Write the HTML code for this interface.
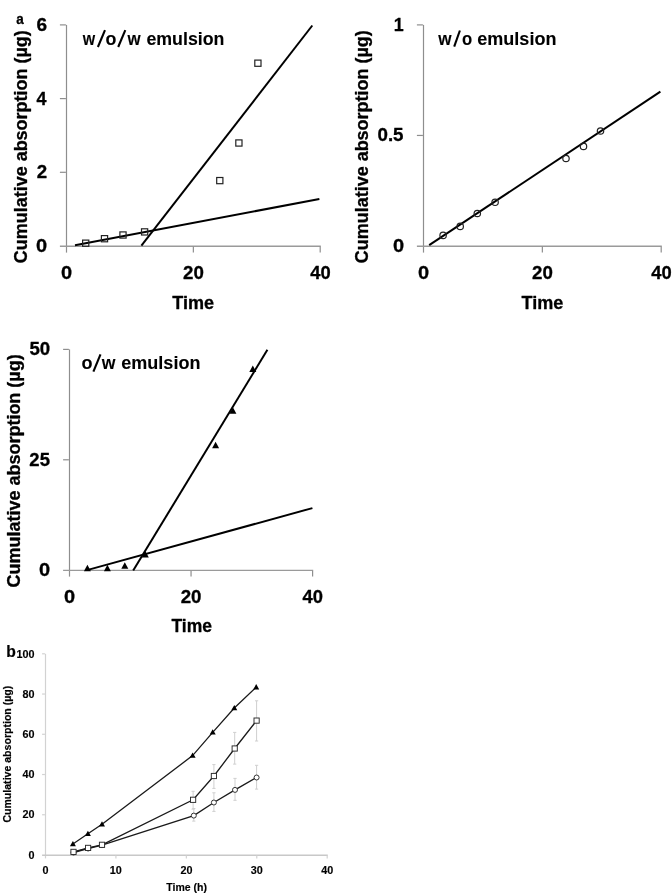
<!DOCTYPE html>
<html><head><meta charset="utf-8"><style>
html,body{margin:0;padding:0;background:#fff;width:672px;height:893px;overflow:hidden}
svg{display:block;will-change:transform}
</style></head><body>
<svg width="672" height="893" viewBox="0 0 672 893" font-family='"Liberation Sans", sans-serif'>
<style>text{stroke:#000;stroke-width:0.3px;stroke-linejoin:round}.sm text{stroke-width:0.15px}.tt text{stroke-width:0.1px}.sb text{stroke-width:0.2px}</style>
<rect width="672" height="893" fill="#fff"/>
<line x1="66.50" y1="24.90" x2="66.50" y2="252.60" stroke="#8e8e8e" stroke-width="1.2" stroke-linecap="butt"/>
<line x1="59.90" y1="246.20" x2="320.80" y2="246.20" stroke="#9a9a9a" stroke-width="1.4" stroke-linecap="butt"/>
<line x1="59.90" y1="172.30" x2="65.90" y2="172.30" stroke="#8e8e8e" stroke-width="1.2" stroke-linecap="butt"/>
<line x1="59.90" y1="98.60" x2="65.90" y2="98.60" stroke="#8e8e8e" stroke-width="1.2" stroke-linecap="butt"/>
<line x1="59.90" y1="24.90" x2="65.90" y2="24.90" stroke="#8e8e8e" stroke-width="1.2" stroke-linecap="butt"/>
<line x1="193.35" y1="246.60" x2="193.35" y2="252.60" stroke="#8e8e8e" stroke-width="1.2" stroke-linecap="butt"/>
<line x1="320.20" y1="246.60" x2="320.20" y2="252.60" stroke="#8e8e8e" stroke-width="1.2" stroke-linecap="butt"/>
<text x="36.11" y="251.90" font-size="18" font-weight="bold" fill="#000" textLength="11.11" lengthAdjust="spacingAndGlyphs">0</text>
<text x="36.75" y="178.20" font-size="18" font-weight="bold" fill="#000" textLength="10.40" lengthAdjust="spacingAndGlyphs">2</text>
<text x="36.53" y="104.50" font-size="18" font-weight="bold" fill="#000" textLength="9.97" lengthAdjust="spacingAndGlyphs">4</text>
<text x="36.50" y="30.80" font-size="18" font-weight="bold" fill="#000" textLength="10.58" lengthAdjust="spacingAndGlyphs">6</text>
<text x="60.96" y="278.60" font-size="18" font-weight="bold" fill="#000" textLength="11.11" lengthAdjust="spacingAndGlyphs">0</text>
<text x="183.00" y="278.60" font-size="18" font-weight="bold" fill="#000" textLength="20.82" lengthAdjust="spacingAndGlyphs">20</text>
<text x="310.22" y="278.60" font-size="18" font-weight="bold" fill="#000" textLength="20.43" lengthAdjust="spacingAndGlyphs">40</text>
<text x="172.30" y="308.60" font-size="18" font-weight="bold" fill="#000" textLength="41.81" lengthAdjust="spacingAndGlyphs">Time</text>
<g class="tt">
<text x="82.65" y="44.50" font-size="18" font-weight="bold" fill="#000" textLength="12.42" lengthAdjust="spacingAndGlyphs">w</text>
<line x1="97.90" y1="47.00" x2="105.00" y2="30.10" stroke="#000" stroke-width="2.1" stroke-linecap="butt"/>
<text x="105.60" y="44.50" font-size="18" font-weight="bold" fill="#000" textLength="10.89" lengthAdjust="spacingAndGlyphs">o</text>
<line x1="118.20" y1="47.00" x2="125.30" y2="30.10" stroke="#000" stroke-width="2.1" stroke-linecap="butt"/>
<text x="127.45" y="44.50" font-size="18" font-weight="bold" fill="#000" textLength="13.12" lengthAdjust="spacingAndGlyphs">w</text>
<text x="146.41" y="44.50" font-size="18" font-weight="bold" fill="#000" textLength="78.00" lengthAdjust="spacingAndGlyphs">emulsion</text>
</g>
<text x="16.30" y="24.20" font-size="15.5" font-weight="bold" fill="#000" textLength="7.51" lengthAdjust="spacingAndGlyphs">a</text>
<text transform="translate(27.20 262.40) rotate(-90)" x="-0.74" y="0" font-size="17.5" font-weight="bold" textLength="232.83" lengthAdjust="spacingAndGlyphs">Cumulative absorption (µg)</text>
<line x1="75.00" y1="245.30" x2="319.40" y2="199.00" stroke="#000" stroke-width="2" stroke-linecap="butt"/>
<line x1="141.40" y1="245.60" x2="312.30" y2="25.50" stroke="#000" stroke-width="2" stroke-linecap="butt"/>
<rect x="82.60" y="240.10" width="6.2" height="6.2" fill="none" stroke="#222" stroke-width="1.2"/>
<rect x="101.40" y="235.60" width="6.2" height="6.2" fill="none" stroke="#222" stroke-width="1.2"/>
<rect x="119.90" y="231.90" width="6.2" height="6.2" fill="none" stroke="#222" stroke-width="1.2"/>
<rect x="141.50" y="228.80" width="6.2" height="6.2" fill="none" stroke="#222" stroke-width="1.2"/>
<rect x="216.70" y="177.50" width="6.2" height="6.2" fill="none" stroke="#222" stroke-width="1.2"/>
<rect x="235.80" y="139.90" width="6.2" height="6.2" fill="none" stroke="#222" stroke-width="1.2"/>
<rect x="254.80" y="60.10" width="6.2" height="6.2" fill="none" stroke="#222" stroke-width="1.2"/>
<line x1="423.50" y1="24.90" x2="423.50" y2="252.60" stroke="#8e8e8e" stroke-width="1.2" stroke-linecap="butt"/>
<line x1="416.90" y1="246.20" x2="661.80" y2="246.20" stroke="#9a9a9a" stroke-width="1.4" stroke-linecap="butt"/>
<line x1="416.90" y1="135.45" x2="422.90" y2="135.45" stroke="#8e8e8e" stroke-width="1.2" stroke-linecap="butt"/>
<line x1="416.90" y1="24.90" x2="422.90" y2="24.90" stroke="#8e8e8e" stroke-width="1.2" stroke-linecap="butt"/>
<line x1="542.35" y1="246.60" x2="542.35" y2="252.60" stroke="#8e8e8e" stroke-width="1.2" stroke-linecap="butt"/>
<line x1="661.20" y1="246.60" x2="661.20" y2="252.60" stroke="#8e8e8e" stroke-width="1.2" stroke-linecap="butt"/>
<text x="392.91" y="251.90" font-size="18" font-weight="bold" fill="#000" textLength="11.11" lengthAdjust="spacingAndGlyphs">0</text>
<text x="393.78" y="30.80" font-size="18" font-weight="bold" fill="#000" textLength="9.92" lengthAdjust="spacingAndGlyphs">1</text>
<text x="377.46" y="141.35" font-size="18" font-weight="bold" fill="#000" textLength="26.06" lengthAdjust="spacingAndGlyphs">0.5</text>
<text x="417.96" y="278.60" font-size="18" font-weight="bold" fill="#000" textLength="11.11" lengthAdjust="spacingAndGlyphs">0</text>
<text x="532.00" y="278.60" font-size="18" font-weight="bold" fill="#000" textLength="20.82" lengthAdjust="spacingAndGlyphs">20</text>
<text x="651.22" y="278.60" font-size="18" font-weight="bold" fill="#000" textLength="20.43" lengthAdjust="spacingAndGlyphs">40</text>
<text x="521.60" y="308.60" font-size="18" font-weight="bold" fill="#000" textLength="41.81" lengthAdjust="spacingAndGlyphs">Time</text>
<g class="tt">
<text x="438.15" y="44.50" font-size="18" font-weight="bold" fill="#000" textLength="13.32" lengthAdjust="spacingAndGlyphs">w</text>
<line x1="454.20" y1="46.70" x2="459.90" y2="30.50" stroke="#000" stroke-width="2.1" stroke-linecap="butt"/>
<text x="462.05" y="44.50" font-size="18" font-weight="bold" fill="#000" textLength="10.21" lengthAdjust="spacingAndGlyphs">o</text>
<text x="477.30" y="44.50" font-size="18" font-weight="bold" fill="#000" textLength="79.12" lengthAdjust="spacingAndGlyphs">emulsion</text>
</g>
<text transform="translate(367.90 262.40) rotate(-90)" x="-0.74" y="0" font-size="17.5" font-weight="bold" textLength="232.83" lengthAdjust="spacingAndGlyphs">Cumulative absorption (µg)</text>
<line x1="429.20" y1="245.20" x2="660.40" y2="91.60" stroke="#000" stroke-width="2" stroke-linecap="butt"/>
<circle cx="443.10" cy="235.40" r="3.2" fill="none" stroke="#222" stroke-width="1.2"/>
<circle cx="460.20" cy="226.40" r="3.2" fill="none" stroke="#222" stroke-width="1.2"/>
<circle cx="477.30" cy="213.50" r="3.2" fill="none" stroke="#222" stroke-width="1.2"/>
<circle cx="495.10" cy="202.30" r="3.2" fill="none" stroke="#222" stroke-width="1.2"/>
<circle cx="566.00" cy="158.50" r="3.2" fill="none" stroke="#222" stroke-width="1.2"/>
<circle cx="583.50" cy="146.40" r="3.2" fill="none" stroke="#222" stroke-width="1.2"/>
<circle cx="600.50" cy="131.00" r="3.2" fill="none" stroke="#222" stroke-width="1.2"/>
<line x1="69.50" y1="349.40" x2="69.50" y2="576.60" stroke="#8e8e8e" stroke-width="1.2" stroke-linecap="butt"/>
<line x1="63.10" y1="570.40" x2="313.20" y2="570.40" stroke="#9a9a9a" stroke-width="1.4" stroke-linecap="butt"/>
<line x1="63.10" y1="459.80" x2="68.90" y2="459.80" stroke="#8e8e8e" stroke-width="1.2" stroke-linecap="butt"/>
<line x1="63.10" y1="349.40" x2="68.90" y2="349.40" stroke="#8e8e8e" stroke-width="1.2" stroke-linecap="butt"/>
<line x1="191.05" y1="570.80" x2="191.05" y2="576.60" stroke="#8e8e8e" stroke-width="1.2" stroke-linecap="butt"/>
<line x1="312.60" y1="570.80" x2="312.60" y2="576.60" stroke="#8e8e8e" stroke-width="1.2" stroke-linecap="butt"/>
<text x="39.11" y="576.10" font-size="18" font-weight="bold" fill="#000" textLength="11.11" lengthAdjust="spacingAndGlyphs">0</text>
<text x="29.36" y="465.70" font-size="18" font-weight="bold" fill="#000" textLength="20.55" lengthAdjust="spacingAndGlyphs">25</text>
<text x="29.43" y="355.30" font-size="18" font-weight="bold" fill="#000" textLength="20.74" lengthAdjust="spacingAndGlyphs">50</text>
<text x="63.96" y="602.90" font-size="18" font-weight="bold" fill="#000" textLength="11.11" lengthAdjust="spacingAndGlyphs">0</text>
<text x="180.70" y="602.90" font-size="18" font-weight="bold" fill="#000" textLength="20.82" lengthAdjust="spacingAndGlyphs">20</text>
<text x="302.62" y="602.90" font-size="18" font-weight="bold" fill="#000" textLength="20.43" lengthAdjust="spacingAndGlyphs">40</text>
<text x="171.41" y="632.20" font-size="18" font-weight="bold" fill="#000" textLength="40.49" lengthAdjust="spacingAndGlyphs">Time</text>
<g class="tt">
<text x="81.60" y="368.50" font-size="18" font-weight="bold" fill="#000" textLength="11.01" lengthAdjust="spacingAndGlyphs">o</text>
<line x1="93.40" y1="371.70" x2="100.50" y2="354.40" stroke="#000" stroke-width="2.1" stroke-linecap="butt"/>
<text x="101.85" y="368.50" font-size="18" font-weight="bold" fill="#000" textLength="13.71" lengthAdjust="spacingAndGlyphs">w</text>
<text x="121.30" y="368.50" font-size="18" font-weight="bold" fill="#000" textLength="79.12" lengthAdjust="spacingAndGlyphs">emulsion</text>
</g>
<text transform="translate(20.30 586.80) rotate(-90)" x="-0.74" y="0" font-size="17.5" font-weight="bold" textLength="233.23" lengthAdjust="spacingAndGlyphs">Cumulative absorption (µg)</text>
<line x1="87.90" y1="569.90" x2="312.40" y2="508.10" stroke="#000" stroke-width="2" stroke-linecap="butt"/>
<line x1="133.20" y1="570.60" x2="267.40" y2="349.80" stroke="#000" stroke-width="2" stroke-linecap="butt"/>
<path d="M83.90 571.30 L90.90 571.30 L87.40 564.80 Z" fill="#000"/>
<path d="M103.90 571.30 L110.90 571.30 L107.40 564.80 Z" fill="#000"/>
<path d="M121.30 568.80 L128.30 568.80 L124.80 562.30 Z" fill="#000"/>
<path d="M141.80 557.50 L148.80 557.50 L145.30 551.00 Z" fill="#000"/>
<path d="M212.10 448.30 L219.10 448.30 L215.60 441.80 Z" fill="#000"/>
<path d="M229.40 413.80 L236.40 413.80 L232.90 407.30 Z" fill="#000"/>
<path d="M249.30 372.00 L256.30 372.00 L252.80 365.50 Z" fill="#000"/>
<g class="sm">
<line x1="45.50" y1="653.80" x2="45.50" y2="858.40" stroke="#d2d2d2" stroke-width="1.2" stroke-linecap="butt"/>
<line x1="42.10" y1="855.20" x2="327.80" y2="855.20" stroke="#c8c8c8" stroke-width="1.4" stroke-linecap="butt"/>
<line x1="42.10" y1="814.76" x2="44.90" y2="814.76" stroke="#d2d2d2" stroke-width="1.2" stroke-linecap="butt"/>
<line x1="42.10" y1="774.52" x2="44.90" y2="774.52" stroke="#d2d2d2" stroke-width="1.2" stroke-linecap="butt"/>
<line x1="42.10" y1="734.28" x2="44.90" y2="734.28" stroke="#d2d2d2" stroke-width="1.2" stroke-linecap="butt"/>
<line x1="42.10" y1="694.04" x2="44.90" y2="694.04" stroke="#d2d2d2" stroke-width="1.2" stroke-linecap="butt"/>
<line x1="42.10" y1="653.80" x2="44.90" y2="653.80" stroke="#d2d2d2" stroke-width="1.2" stroke-linecap="butt"/>
<line x1="115.92" y1="855.60" x2="115.92" y2="858.40" stroke="#d2d2d2" stroke-width="1.2" stroke-linecap="butt"/>
<line x1="186.35" y1="855.60" x2="186.35" y2="858.40" stroke="#d2d2d2" stroke-width="1.2" stroke-linecap="butt"/>
<line x1="256.77" y1="855.60" x2="256.77" y2="858.40" stroke="#d2d2d2" stroke-width="1.2" stroke-linecap="butt"/>
<line x1="327.20" y1="855.60" x2="327.20" y2="858.40" stroke="#d2d2d2" stroke-width="1.2" stroke-linecap="butt"/>
<text x="28.44" y="858.70" font-size="10.8" font-weight="bold" fill="#000">0</text>
<text x="22.43" y="818.46" font-size="10.8" font-weight="bold" fill="#000">20</text>
<text x="22.43" y="778.22" font-size="10.8" font-weight="bold" fill="#000">40</text>
<text x="22.43" y="737.98" font-size="10.8" font-weight="bold" fill="#000">60</text>
<text x="22.43" y="697.74" font-size="10.8" font-weight="bold" fill="#000">80</text>
<text x="16.42" y="657.50" font-size="10.8" font-weight="bold" fill="#000">100</text>
<text x="42.50" y="874.20" font-size="10.8" font-weight="bold" fill="#000">0</text>
<text x="109.80" y="874.20" font-size="10.8" font-weight="bold" fill="#000">10</text>
<text x="180.38" y="874.20" font-size="10.8" font-weight="bold" fill="#000">20</text>
<text x="250.87" y="874.20" font-size="10.8" font-weight="bold" fill="#000">30</text>
<text x="321.33" y="874.20" font-size="10.8" font-weight="bold" fill="#000">40</text>
<text x="166.28" y="890.90" font-size="11" font-weight="bold" fill="#000" textLength="40.74" lengthAdjust="spacingAndGlyphs">Time (h)</text>
</g>
<g class="sb">
<text x="6.37" y="657.40" font-size="15.8" font-weight="bold" fill="#000" textLength="9.58" lengthAdjust="spacingAndGlyphs">b</text>
<text transform="translate(11.20 822.20) rotate(-90)" x="-0.43" y="0" font-size="11" font-weight="bold" textLength="136.96" lengthAdjust="spacingAndGlyphs">Cumulative absorption (µg)</text>
</g>
<line x1="193.10" y1="791.30" x2="193.10" y2="809.20" stroke="#cfcfcf" stroke-width="1" stroke-linecap="butt"/>
<line x1="191.50" y1="791.30" x2="194.70" y2="791.30" stroke="#cfcfcf" stroke-width="1" stroke-linecap="butt"/>
<line x1="191.50" y1="809.20" x2="194.70" y2="809.20" stroke="#cfcfcf" stroke-width="1" stroke-linecap="butt"/>
<line x1="213.90" y1="764.60" x2="213.90" y2="788.40" stroke="#cfcfcf" stroke-width="1" stroke-linecap="butt"/>
<line x1="212.30" y1="764.60" x2="215.50" y2="764.60" stroke="#cfcfcf" stroke-width="1" stroke-linecap="butt"/>
<line x1="212.30" y1="788.40" x2="215.50" y2="788.40" stroke="#cfcfcf" stroke-width="1" stroke-linecap="butt"/>
<line x1="234.70" y1="732.40" x2="234.70" y2="764.10" stroke="#cfcfcf" stroke-width="1" stroke-linecap="butt"/>
<line x1="233.10" y1="732.40" x2="236.30" y2="732.40" stroke="#cfcfcf" stroke-width="1" stroke-linecap="butt"/>
<line x1="233.10" y1="764.10" x2="236.30" y2="764.10" stroke="#cfcfcf" stroke-width="1" stroke-linecap="butt"/>
<line x1="256.60" y1="700.80" x2="256.60" y2="741.00" stroke="#cfcfcf" stroke-width="1" stroke-linecap="butt"/>
<line x1="255.00" y1="700.80" x2="258.20" y2="700.80" stroke="#cfcfcf" stroke-width="1" stroke-linecap="butt"/>
<line x1="255.00" y1="741.00" x2="258.20" y2="741.00" stroke="#cfcfcf" stroke-width="1" stroke-linecap="butt"/>
<line x1="193.80" y1="808.50" x2="193.80" y2="821.10" stroke="#cfcfcf" stroke-width="1" stroke-linecap="butt"/>
<line x1="192.20" y1="808.50" x2="195.40" y2="808.50" stroke="#cfcfcf" stroke-width="1" stroke-linecap="butt"/>
<line x1="192.20" y1="821.10" x2="195.40" y2="821.10" stroke="#cfcfcf" stroke-width="1" stroke-linecap="butt"/>
<line x1="213.90" y1="792.80" x2="213.90" y2="811.40" stroke="#cfcfcf" stroke-width="1" stroke-linecap="butt"/>
<line x1="212.30" y1="792.80" x2="215.50" y2="792.80" stroke="#cfcfcf" stroke-width="1" stroke-linecap="butt"/>
<line x1="212.30" y1="811.40" x2="215.50" y2="811.40" stroke="#cfcfcf" stroke-width="1" stroke-linecap="butt"/>
<line x1="235.00" y1="778.40" x2="235.00" y2="800.30" stroke="#cfcfcf" stroke-width="1" stroke-linecap="butt"/>
<line x1="233.40" y1="778.40" x2="236.60" y2="778.40" stroke="#cfcfcf" stroke-width="1" stroke-linecap="butt"/>
<line x1="233.40" y1="800.30" x2="236.60" y2="800.30" stroke="#cfcfcf" stroke-width="1" stroke-linecap="butt"/>
<line x1="256.60" y1="765.30" x2="256.60" y2="789.10" stroke="#cfcfcf" stroke-width="1" stroke-linecap="butt"/>
<line x1="255.00" y1="765.30" x2="258.20" y2="765.30" stroke="#cfcfcf" stroke-width="1" stroke-linecap="butt"/>
<line x1="255.00" y1="789.10" x2="258.20" y2="789.10" stroke="#cfcfcf" stroke-width="1" stroke-linecap="butt"/>
<polyline fill="none" stroke="#1a1a1a" stroke-width="1.3" points="72.90,844.00 87.90,833.80 102.00,824.30 192.60,755.60 212.70,732.30 234.30,708.00 256.20,687.20"/>
<polyline fill="none" stroke="#1a1a1a" stroke-width="1.3" points="73.50,851.90 88.10,847.90 102.00,844.80 193.10,799.80 213.90,776.00 234.70,748.50 256.60,720.60"/>
<polyline fill="none" stroke="#1a1a1a" stroke-width="1.3" points="73.50,852.50 88.10,848.50 102.00,845.20 193.80,815.60 213.90,802.50 235.00,789.90 256.60,777.50"/>
<path d="M69.90 846.20 L75.90 846.20 L72.90 840.90 Z" fill="#000"/>
<path d="M84.90 836.00 L90.90 836.00 L87.90 830.70 Z" fill="#000"/>
<path d="M99.00 826.50 L105.00 826.50 L102.00 821.20 Z" fill="#000"/>
<path d="M189.60 757.80 L195.60 757.80 L192.60 752.50 Z" fill="#000"/>
<path d="M209.70 734.50 L215.70 734.50 L212.70 729.20 Z" fill="#000"/>
<path d="M231.30 710.20 L237.30 710.20 L234.30 704.90 Z" fill="#000"/>
<path d="M253.20 689.40 L259.20 689.40 L256.20 684.10 Z" fill="#000"/>
<circle cx="73.50" cy="852.50" r="2.5" fill="#fff" stroke="#2a2a2a" stroke-width="0.95"/>
<circle cx="88.10" cy="848.50" r="2.5" fill="#fff" stroke="#2a2a2a" stroke-width="0.95"/>
<circle cx="102.00" cy="845.20" r="2.5" fill="#fff" stroke="#2a2a2a" stroke-width="0.95"/>
<circle cx="193.80" cy="815.60" r="2.5" fill="#fff" stroke="#2a2a2a" stroke-width="0.95"/>
<circle cx="213.90" cy="802.50" r="2.5" fill="#fff" stroke="#2a2a2a" stroke-width="0.95"/>
<circle cx="235.00" cy="789.90" r="2.5" fill="#fff" stroke="#2a2a2a" stroke-width="0.95"/>
<circle cx="256.60" cy="777.50" r="2.5" fill="#fff" stroke="#2a2a2a" stroke-width="0.95"/>
<rect x="70.90" y="849.30" width="5.2" height="5.2" fill="#fff" stroke="#2a2a2a" stroke-width="0.95"/>
<rect x="85.50" y="845.30" width="5.2" height="5.2" fill="#fff" stroke="#2a2a2a" stroke-width="0.95"/>
<rect x="99.40" y="842.20" width="5.2" height="5.2" fill="#fff" stroke="#2a2a2a" stroke-width="0.95"/>
<rect x="190.50" y="797.20" width="5.2" height="5.2" fill="#fff" stroke="#2a2a2a" stroke-width="0.95"/>
<rect x="211.30" y="773.40" width="5.2" height="5.2" fill="#fff" stroke="#2a2a2a" stroke-width="0.95"/>
<rect x="232.10" y="745.90" width="5.2" height="5.2" fill="#fff" stroke="#2a2a2a" stroke-width="0.95"/>
<rect x="254.00" y="718.00" width="5.2" height="5.2" fill="#fff" stroke="#2a2a2a" stroke-width="0.95"/>
</svg>
</body></html>
